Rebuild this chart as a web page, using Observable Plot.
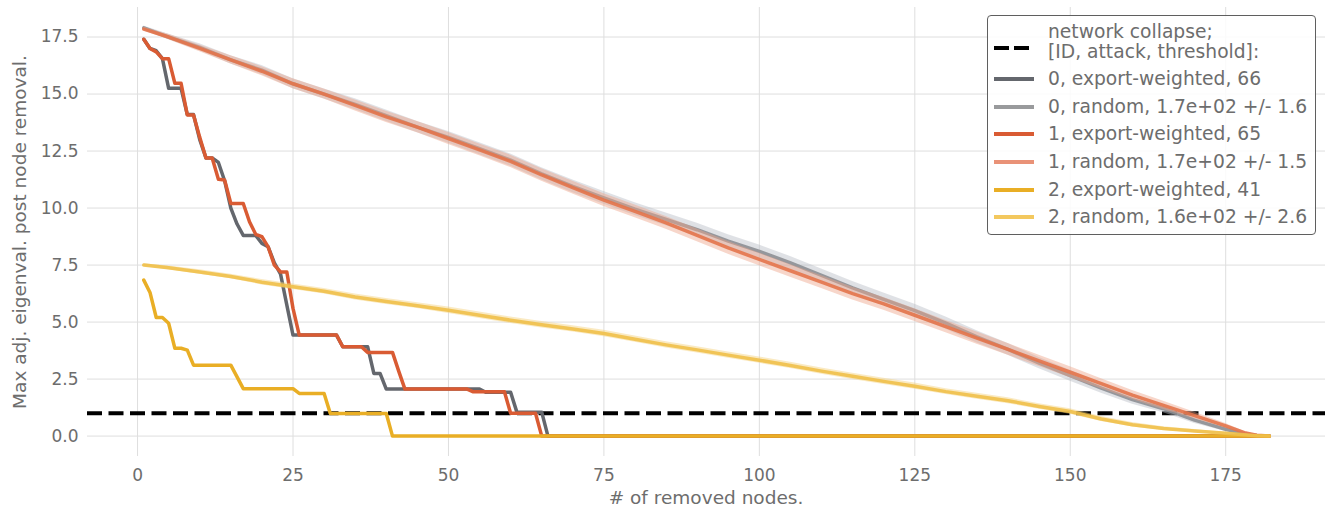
<!DOCTYPE html>
<html>
<head>
<meta charset="utf-8">
<script src="https://cdn.jsdelivr.net/npm/d3@7"></script>
<script src="https://cdn.jsdelivr.net/npm/@observablehq/plot@0.6"></script>
<style>
  html, body { margin: 0; padding: 0; background: white; }
  #wrap { position: relative; width: 1333px; height: 513px; font-family: "DejaVu Sans", sans-serif; color: #6d6d6d; }
  #legend { position: absolute; left: 987px; top: 15px; width: 329px; height: 220px; border: 1.5px solid #5f5f5f; border-radius: 4px; background: rgba(255,255,255,0.85); box-sizing: border-box; }
  .row { position: absolute; left: 0; height: 24px; font-size: 18.7px; line-height: 20px; white-space: nowrap; }
  .row svg { position: absolute; left: 5px; }
  .row span { position: absolute; left: 60px; }
  .axtitle { position: absolute; font-size: 18.5px; white-space: nowrap; color: #6d6d6d; }
</style>
</head>
<body>
<div id="wrap"></div>
<script>
// ---- data ----
const xTicks = [0, 25, 50, 75, 100, 125, 150, 175];
const yTicks = [0, 2.5, 5, 7.5, 10, 12.5, 15, 17.5];
const collapseThreshold = 1;

// export-weighted attacks (x = number of removed nodes)
const export0X = [1,2,3,4,5,6,7,8,9,10,11,12,13,14,15,16,17,18,19,20,21,22,23,24,25,26,27,28,29,30,31,32,33,34,35,36,37,38,39,40,41,42,43,44,45,46,47,48,49,50,51,52,53,54,55,56,57,58,59,60,61,62,63,64,65,66,182];
const export0Y = [17.4,17.0,16.9,16.55,15.25,15.25,15.25,14.1,14.1,13.0,12.2,12.2,12.0,11.2,10.0,9.3,8.8,8.8,8.8,8.45,8.3,7.6,7.1,5.75,4.43,4.43,4.43,4.43,4.43,4.43,4.43,4.43,3.92,3.92,3.92,3.92,3.92,2.75,2.75,2.06,2.06,2.06,2.06,2.06,2.06,2.06,2.06,2.06,2.06,2.06,2.06,2.06,2.06,2.06,2.06,1.92,1.92,1.92,1.92,1.92,1.05,1.05,1.05,1.05,1.05,0,0];

const export1X = [1,2,3,4,5,6,7,8,9,10,11,12,13,14,15,16,17,18,19,20,21,22,23,24,25,26,27,28,29,30,31,32,33,34,35,36,37,38,39,40,41,42,43,44,45,46,47,48,49,50,51,52,53,54,55,56,57,58,59,60,61,62,63,64,65,182];
const export1Y = [17.4,17.0,16.85,16.55,16.55,15.47,15.47,14.08,14.08,13.1,12.2,12.2,11.26,11.23,10.2,10.2,10.2,9.4,8.85,8.75,8.3,7.5,7.2,7.2,5.6,4.43,4.43,4.43,4.43,4.43,4.43,4.43,3.92,3.92,3.92,3.92,3.67,3.67,3.67,3.67,3.67,2.85,2.06,2.06,2.06,2.06,2.06,2.06,2.06,2.06,2.06,2.06,2.06,1.94,1.94,1.94,1.94,1.94,1.94,1.0,1.0,1.0,1.0,1.0,0,0];

const export2X = [1,2,3,4,5,6,7,8,9,10,11,12,13,14,15,16,17,18,19,20,21,22,23,24,25,26,27,28,29,30,31,32,33,34,35,36,37,38,39,40,41,182];
const export2Y = [6.84,6.3,5.2,5.2,4.95,3.85,3.85,3.77,3.11,3.11,3.11,3.11,3.11,3.11,3.11,2.6,2.08,2.08,2.08,2.08,2.08,2.08,2.08,2.08,2.08,1.87,1.87,1.87,1.87,1.87,0.99,0.99,0.99,0.99,0.99,0.99,0.99,0.99,0.99,0.99,0,0];

// random attacks (mean and half-width of the shaded band)
const randomX = [1,5,10,15,20,25,30,35,40,45,50,55,60,65,70,75,80,85,90,95,100,105,110,115,120,125,130,135,140,145,150,155,160,165,170,175,178,180,182];
const random0Y = [17.9,17.5,17.05,16.5,16.05,15.45,15.0,14.55,14.05,13.55,13.1,12.6,12.1,11.5,10.95,10.45,9.95,9.5,9.05,8.55,8.1,7.6,7.05,6.5,6.0,5.5,4.95,4.35,3.8,3.2,2.65,2.1,1.6,1.2,0.7,0.3,0.1,0.03,0];
const random0Spread = [0.08,0.12,0.15,0.18,0.2,0.22,0.22,0.24,0.25,0.25,0.26,0.26,0.27,0.27,0.28,0.28,0.28,0.28,0.28,0.28,0.28,0.28,0.28,0.28,0.28,0.28,0.27,0.27,0.26,0.25,0.24,0.22,0.2,0.18,0.15,0.1,0.05,0.02,0];
const random1Y = [17.85,17.5,17.0,16.5,16.0,15.45,15.0,14.5,14.0,13.55,13.05,12.55,12.05,11.45,10.9,10.35,9.85,9.35,8.8,8.25,7.75,7.25,6.75,6.25,5.8,5.3,4.8,4.3,3.8,3.3,2.8,2.3,1.8,1.35,0.9,0.45,0.15,0.04,0];
const random1Spread = [0.08,0.12,0.15,0.18,0.2,0.22,0.22,0.24,0.25,0.25,0.26,0.26,0.27,0.27,0.28,0.28,0.28,0.28,0.28,0.28,0.28,0.28,0.28,0.28,0.28,0.28,0.27,0.27,0.26,0.25,0.24,0.22,0.2,0.18,0.15,0.1,0.05,0.02,0];
const random2Y = [7.5,7.38,7.2,7.0,6.75,6.55,6.35,6.1,5.9,5.72,5.52,5.3,5.08,4.88,4.7,4.5,4.25,4.0,3.78,3.55,3.33,3.1,2.85,2.62,2.4,2.19,1.95,1.75,1.55,1.3,1.08,0.75,0.5,0.33,0.22,0.12,0.06,0.02,0];
const random2Spread = [0.06,0.08,0.1,0.1,0.12,0.12,0.12,0.13,0.13,0.13,0.14,0.14,0.14,0.14,0.14,0.14,0.14,0.14,0.14,0.14,0.14,0.14,0.14,0.14,0.14,0.14,0.13,0.13,0.13,0.12,0.12,0.11,0.1,0.08,0.07,0.05,0.03,0.01,0];

const legendLabels = [
  "0, export-weighted, 66",
  "0, random, 1.7e+02 +/- 1.6",
  "1, export-weighted, 65",
  "1, random, 1.7e+02 +/- 1.5",
  "2, export-weighted, 41",
  "2, random, 1.6e+02 +/- 2.6"
];
const collapseLabel = ["network collapse;", "[ID, attack, threshold]:"];
const xTitle = "# of removed nodes.";
const yTitle = "Max adj. eigenval. post node removal.";

const exportColors = ["#64676d", "#d95b33", "#e9ae25"];
const randomLineColors = ["#8d8f94", "#e3744b", "#f0c04a"];
const randomBandColors = ["#b8bcc6", "#eea48a", "#f5d17a"];
const legendColors = ["#64676d", "#999a9c", "#d95b33", "#e99277", "#e9ae25", "#f3c85e"];

// ---- build tables ----
const exportSeries = [[export0X, export0Y], [export1X, export1Y], [export2X, export2Y]]
  .map(([xs, ys]) => xs.map((x, i) => ({x, y: ys[i]})));
const randomSeries = [[random0Y, random0Spread], [random1Y, random1Spread], [random2Y, random2Spread]]
  .map(([ys, ss]) => randomX.map((x, i) => ({x, y: ys[i], lo: ys[i] - ss[i], hi: ys[i] + ss[i]})));

const marks = [
  Plot.gridX(xTicks, {stroke: "#dedede", strokeOpacity: 1, strokeWidth: 1}),
  Plot.gridY(yTicks, {stroke: "#dedede", strokeOpacity: 1, strokeWidth: 1}),
  Plot.axisX(xTicks, {tickSize: 0, tickPadding: 12, fontSize: 17, fill: "#6d6d6d", label: null}),
  Plot.axisY(yTicks, {tickSize: 0, tickPadding: 9, fontSize: 17, fill: "#6d6d6d", label: null, tickFormat: d => d.toFixed(1)}),
  Plot.ruleY([collapseThreshold], {stroke: "black", strokeWidth: 4, strokeDasharray: "15,6.5"})
];
for (let k = 0; k < 3; k++) {
  marks.push(Plot.line(exportSeries[k], {x: "x", y: "y", stroke: exportColors[k], strokeWidth: 3.5}));
  marks.push(Plot.areaY(randomSeries[k], {x: "x", y1: "lo", y2: "hi", fill: randomBandColors[k], fillOpacity: 0.45}));
  marks.push(Plot.line(randomSeries[k], {x: "x", y: "y", stroke: randomLineColors[k], strokeWidth: 3.5, strokeOpacity: 0.9}));
}

const chart = Plot.plot({
  width: 1333,
  height: 513,
  marginLeft: 87,
  marginRight: 8,
  marginTop: 7,
  marginBottom: 57,
  style: {fontFamily: "DejaVu Sans, sans-serif", fontSize: "17px", background: "white", color: "#6d6d6d"},
  x: {domain: [-8.05, 191.05]},
  y: {domain: [-0.895, 18.795]},
  marks
});

const wrap = document.getElementById("wrap");
wrap.appendChild(chart);

// axis titles
const xt = document.createElement("div");
xt.className = "axtitle";
xt.textContent = xTitle;
xt.style.left = "706px"; xt.style.top = "497px";
xt.style.transform = "translate(-50%, -50%)";
wrap.appendChild(xt);

const yt = document.createElement("div");
yt.className = "axtitle";
yt.textContent = yTitle;
yt.style.left = "19px"; yt.style.top = "232px";
yt.style.transform = "translate(-50%, -50%) rotate(-90deg)";
wrap.appendChild(yt);

// legend
const lg = document.createElement("div");
lg.id = "legend";
function swatch(color, dashed) {
  const ns = "http://www.w3.org/2000/svg";
  const s = document.createElementNS(ns, "svg");
  s.setAttribute("width", "42"); s.setAttribute("height", "8");
  const l = document.createElementNS(ns, "line");
  l.setAttribute("x1", "1"); l.setAttribute("x2", dashed ? "36" : "41");
  l.setAttribute("y1", "4"); l.setAttribute("y2", "4");
  l.setAttribute("stroke", color); l.setAttribute("stroke-width", "4");
  if (dashed) l.setAttribute("stroke-dasharray", "15,5");
  s.appendChild(l);
  return s;
}
{
  const r = document.createElement("div");
  r.className = "row"; r.style.top = "5px"; r.style.height = "44px";
  const sw = swatch("black", true); sw.style.top = "23px";
  r.appendChild(sw);
  const sp = document.createElement("span");
  sp.innerHTML = collapseLabel[0] + "<br>" + collapseLabel[1];
  sp.style.top = "1px";
  r.appendChild(sp);
  lg.appendChild(r);
}
const rowCenters = [79.3, 107, 134.7, 162.4, 190, 217];
legendLabels.forEach((t, i) => {
  const r = document.createElement("div");
  r.className = "row";
  r.style.top = (rowCenters[i] - 15 - 12 - 1.5) + "px";
  const sw = swatch(legendColors[i], false); sw.style.top = "8px";
  r.appendChild(sw);
  const sp = document.createElement("span");
  sp.textContent = t; sp.style.top = "2px";
  r.appendChild(sp);
  lg.appendChild(r);
});
wrap.appendChild(lg);
</script>
</body>
</html>
